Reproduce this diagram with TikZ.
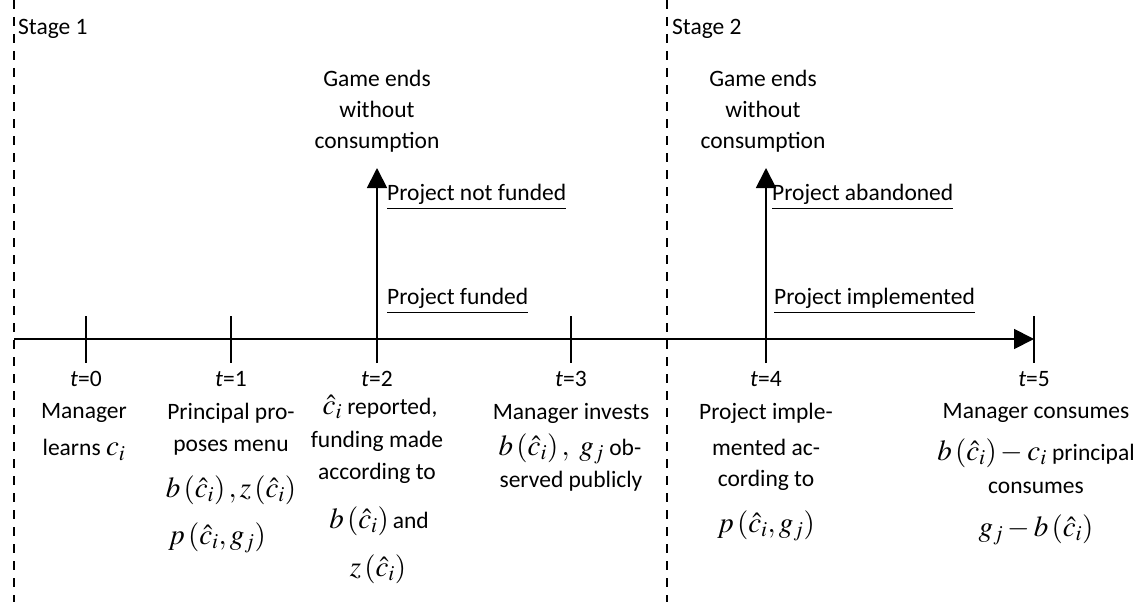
\documentclass[tikz,border=0pt]{standalone}
\usepackage{mathptmx}
\usepackage{fontspec}
\setmainfont{Carlito}
\usetikzlibrary{arrows.meta}
\newcommand{\mth}[1]{{\fontsize{29}{30}\selectfont$#1$}}
\begin{document}
\begin{tikzpicture}[x=1pt,y=-1pt,
  every node/.style={font=\fontsize{23.5}{28}\selectfont, inner sep=0pt},
  tl/.style={line width=1.8pt},
  stagesep/.style={line width=2pt, dash pattern=on 9pt off 8pt},
  tip/.style={-{Triangle[length=20pt,width=20pt]}},
  ulab/.style={anchor=west},
  gameend/.style={align=center, font=\fontsize{23.5}{31}\selectfont}]
\path[use as bounding box] (0,0) rectangle (1135,602);
% stage separators
\coordinate (s1t) at (14,0); \coordinate (s1b) at (14,602);
\coordinate (s2t) at (667,0); \coordinate (s2b) at (667,602);
\draw[stagesep] (s1t) -- (s1b);
\draw[stagesep] (s2t) -- (s2b);
\node[anchor=west] (st1) at (18,29) {Stage 1};
\node[anchor=west] (st2) at (672,29) {Stage 2};
% timeline
\coordinate (tls) at (14,339);
\coordinate (tk0) at (86,339);
\coordinate (tk1) at (231,339);
\coordinate (tk2) at (377,339);
\coordinate (tk3) at (571,339);
\coordinate (tk4) at (766,339);
\coordinate (tk5) at (1034,339);
\draw[tl,tip] (tls) -- (tk5);
\foreach \k in {tk0,tk1,tk3,tk5}{
  \draw[tl] ([yshift=23pt]\k) -- ([yshift=-24pt]\k);
}
% vertical arrows
\coordinate (up2) at (377,168);
\coordinate (up4) at (766,168);
\draw[tl,tip] ([yshift=-24pt]tk2) -- (up2);
\draw[tl,tip] ([yshift=-24pt]tk4) -- (up4);
\node[gameend] (ge2) at (377,111) {Game ends\\without\\consumption};
\node[gameend] (ge4) at (763,111) {Game ends\\without\\consumption};
\node[ulab] (nf) at (387,197) {\underline{Project not funded}};
\node[ulab] (fu) at (387,301) {\underline{Project funded}};
\node[ulab] (ab) at (772,197) {\underline{Project abandoned}};
\node[ulab] (im) at (774,301) {\underline{Project implemented}};
% time labels
\node (t0) at (86,379) {\textit{t}=0};
\node (t1) at (231,379) {\textit{t}=1};
\node (t2) at (377,379) {\textit{t}=2};
\node (t3) at (571,379) {\textit{t}=3};
\node (t4) at (766,379) {\textit{t}=4};
\node (t5) at (1034,379) {\textit{t}=5};
% descriptions
\node (d0a) at (84,413) {Manager};
\node (d0b) at (84,450) {learns \mth{c_i}};
\node (d1a) at (231,413) {Principal pro-};
\node (d1b) at (231,448) {poses menu};
\node (d1c) at (231,490) {\mth{b\left(\hat c_i\right), z\left(\hat c_i\right)}};
\node[anchor=west] (d1d) at (168,538) {\mth{p\left(\hat c_i, g_j\right)}};
\node (d2a) at (380,407) {\mth{\hat c_i} reported,};
\node (d2b) at (377,441) {funding made};
\node (d2c) at (377,473) {according to};
\node (d2d) at (379,521) {\mth{b\left(\hat c_i\right)}\,and};
\node (d2e) at (378,569) {\mth{z\left(\hat c_i\right)}};
\node (d3a) at (571,413) {Manager invests};
\node (d3b) at (570,449) {\mth{b\left(\hat c_i\right),\ g_j} ob-};
\node (d3c) at (571,481) {served publicly};
\node (d4a) at (766,413) {Project imple-};
\node (d4b) at (766,447) {mented ac-};
\node (d4c) at (766,480) {cording to};
\node (d4d) at (766,526) {\mth{p\left(\hat c_i, g_j\right)}};
\node (d5a) at (1036,413) {Manager consumes};
\node (d5b) at (1036,453) {\mth{b\left(\hat c_i\right) - c_i} principal};
\node (d5c) at (1036,488) {consumes};
\node (d5d) at (1036,530) {\mth{g_j - b\left(\hat c_i\right)}};
\end{tikzpicture}
\end{document}
